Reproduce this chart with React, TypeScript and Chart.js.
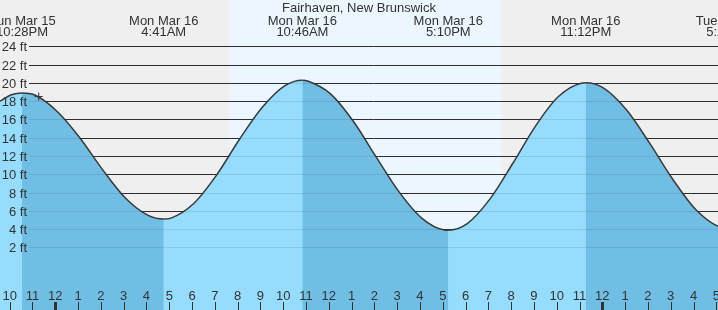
import React, { useEffect, useRef } from "react";
import { Chart, registerables } from "chart.js";

Chart.register(...registerables);

// ---- data (hours measured from Mon Mar 16 00:00) ----
const stationName = "Fairhaven, New Brunswick";

const tideHours = [-1.533, 4.683, 10.767, 17.167, 23.2, 29.467];
const tideDays = ["Sun Mar 15", "Mon Mar 16", "Mon Mar 16", "Mon Mar 16", "Mon Mar 16", "Tue Mar 17"];
const tideClock = ["10:28PM", "4:41AM", "10:46AM", "5:10PM", "11:12PM", "5:28AM"];
const tideFeet = [18.9, 5.1, 20.3, 3.88, 20.0, 4.1];

const curveHours = [
  -2.5, -2, -1.533, -1, 0, 1, 2, 3, 4, 4.683, 5, 6, 7, 8, 9, 10, 10.767, 11, 12, 13, 14, 15, 16, 17,
  17.167, 18, 19, 20, 21, 22, 23, 23.2, 24, 25, 26, 27, 28, 29, 29.467,
];
const curveFeet = [
  18.0, 18.7, 18.9, 18.7, 16.9, 14.0, 10.5, 7.4, 5.5, 5.1, 5.2, 6.8, 9.9, 13.8, 17.3, 19.7, 20.3, 20.2, 18.8,
  15.8, 11.9, 8.1, 5.2, 3.9, 3.88, 4.6, 7.3, 11.2, 15.3, 18.5, 19.96, 20.0, 19.4, 17.0, 13.4, 9.5, 6.2, 4.3, 4.1,
];

const nowHour = [-0.8];
const nowFeet = [18.5];

const daylightHours = [7.583, 19.533];

const hourTicks = [
  -2, -1, 0, 1, 2, 3, 4, 5, 6, 7, 8, 9, 10, 11, 12, 13, 14, 15, 16, 17, 18, 19, 20, 21, 22, 23, 24, 25, 26, 27, 28, 29,
];
const hourTickLabels = [
  "10", "11", "12", "1", "2", "3", "4", "5", "6", "7", "8", "9", "10", "11", "12", "1", "2", "3", "4", "5", "6",
  "7", "8", "9", "10", "11", "12", "1", "2", "3", "4", "5",
];
const midnightTicks = [0, 24];
const footTicks = [2, 4, 6, 8, 10, 12, 14, 16, 18, 20, 22, 24];

const xRange = [-2.5, 29.0];
const yRange = [-4.86, 29.07];

// ---- styles ----
const FONT = "13px 'Liberation Sans', Arial, sans-serif";
const TEXT = "#333333";
const NIGHT = "#efefef";
const DAY = "#ebf6fe";
const LIGHT_FILL = "rgb(150,220,252)";
const DARK_FILL = "rgb(112,190,228)";
const TICK_SHIFT = -1.7;

const gridPath = (chart: any, color: string) => {
  const { ctx, chartArea: a, scales } = chart;
  const y = scales.y;
  ctx.save();
  ctx.strokeStyle = color;
  ctx.lineWidth = 1;
  footTicks.forEach((v) => {
    const py = Math.round(y.getPixelForValue(v)) + 0.5;
    ctx.beginPath();
    ctx.moveTo(a.left + 29, py);
    ctx.lineTo(a.right, py);
    ctx.stroke();
  });
  ctx.restore();
};

const tidePlugin = {
  id: "tideDecor",
  beforeDraw(chart: any) {
    const { ctx, chartArea: a, scales } = chart;
    const x = scales.x;
    ctx.save();
    ctx.fillStyle = NIGHT;
    ctx.fillRect(a.left, a.top, a.right - a.left, a.bottom - a.top);
    const d0 = Math.round(x.getPixelForValue(daylightHours[0]));
    const d1 = Math.round(x.getPixelForValue(daylightHours[1]));
    ctx.fillStyle = DAY;
    ctx.fillRect(d0, a.top, d1 - d0, a.bottom - a.top);
    ctx.restore();
    gridPath(chart, "#333333");
  },
  afterDatasetsDraw(chart: any) {
    const { ctx, chartArea: a, scales } = chart;
    const x = scales.x;
    const y = scales.y;
    gridPath(chart, "rgba(0,0,0,0.09)");
    ctx.save();
    ctx.font = FONT;
    ctx.fillStyle = TEXT;
    ctx.textBaseline = "alphabetic";

    // foot labels
    ctx.textAlign = "right";
    footTicks.forEach((v) => {
      const py = Math.round(y.getPixelForValue(v));
      ctx.fillText(`${v} ft`, a.left + 27, py + 5);
    });

    // title
    ctx.textAlign = "center";
    ctx.fillText(stationName, (a.left + a.right) / 2, a.top + 12);

    // tide extreme labels
    tideHours.forEach((h, i) => {
      const px = x.getPixelForValue(h);
      ctx.fillText(tideDays[i], px, a.top + 25);
      ctx.fillText(tideClock[i], px, a.top + 36);
    });

    // hour ticks and labels
    hourTicks.forEach((h, i) => {
      const px = x.getPixelForValue(h) + TICK_SHIFT;
      ctx.fillStyle = TEXT;
      ctx.fillText(hourTickLabels[i], px, a.bottom - 10);
      if (midnightTicks.includes(h)) {
        ctx.fillRect(Math.round(px) - 1, a.bottom - 8, 3, 8);
      } else {
        ctx.fillRect(Math.round(px), a.bottom - 8, 1, 8);
      }
    });
    ctx.restore();
  },
};

export default function App() {
  const canvasRef = useRef<HTMLCanvasElement | null>(null);

  useEffect(() => {
    const canvas = canvasRef.current;
    if (!canvas) return;
    const curvePoints = () => curveHours.map((h, i) => ({ x: h, y: curveFeet[i] }));
    const chart = new Chart(canvas, {
      type: "line",
      data: {
        datasets: [
          {
            type: "scatter",
            data: nowHour.map((h, i) => ({ x: h, y: nowFeet[i] })),
            pointStyle: "cross",
            pointRadius: 4,
            pointHoverRadius: 4,
            pointBorderColor: "#333333",
            pointBorderWidth: 1,
            showLine: false,
            order: 0,
          } as any,
          {
            data: curvePoints(),
            borderColor: "#3a3a3a",
            borderWidth: 1.5,
            pointRadius: 0,
            pointHoverRadius: 0,
            fill: "start",
            backgroundColor: LIGHT_FILL,
            cubicInterpolationMode: "monotone",
            segment: {
              backgroundColor: (c: any) => (c.p1.y > c.p0.y ? DARK_FILL : LIGHT_FILL),
            },
            order: 1,
          } as any,
          {
            data: curvePoints(),
            borderWidth: 0,
            borderColor: "rgba(0,0,0,0)",
            pointRadius: 0,
            pointHoverRadius: 0,
            fill: "start",
            backgroundColor: LIGHT_FILL,
            cubicInterpolationMode: "monotone",
            order: 2,
          } as any,
        ],
      },
      options: {
        responsive: false,
        animation: false,
        devicePixelRatio: 1,
        events: [],
        layout: { padding: 0, autoPadding: false },
        plugins: {
          legend: { display: false },
          tooltip: { enabled: false },
          title: { display: false },
        },
        scales: {
          x: { type: "linear", min: xRange[0], max: xRange[1], display: false },
          y: { type: "linear", min: yRange[0], max: yRange[1], display: false },
        },
      } as any,
      plugins: [tidePlugin],
    });
    return () => chart.destroy();
  }, []);

  return (
    <div style={{ position: "fixed", left: 0, top: 0, width: 718, height: 310 }}>
      <canvas ref={canvasRef} width={718} height={310} style={{ display: "block", width: 718, height: 310 }} />
    </div>
  );
}
